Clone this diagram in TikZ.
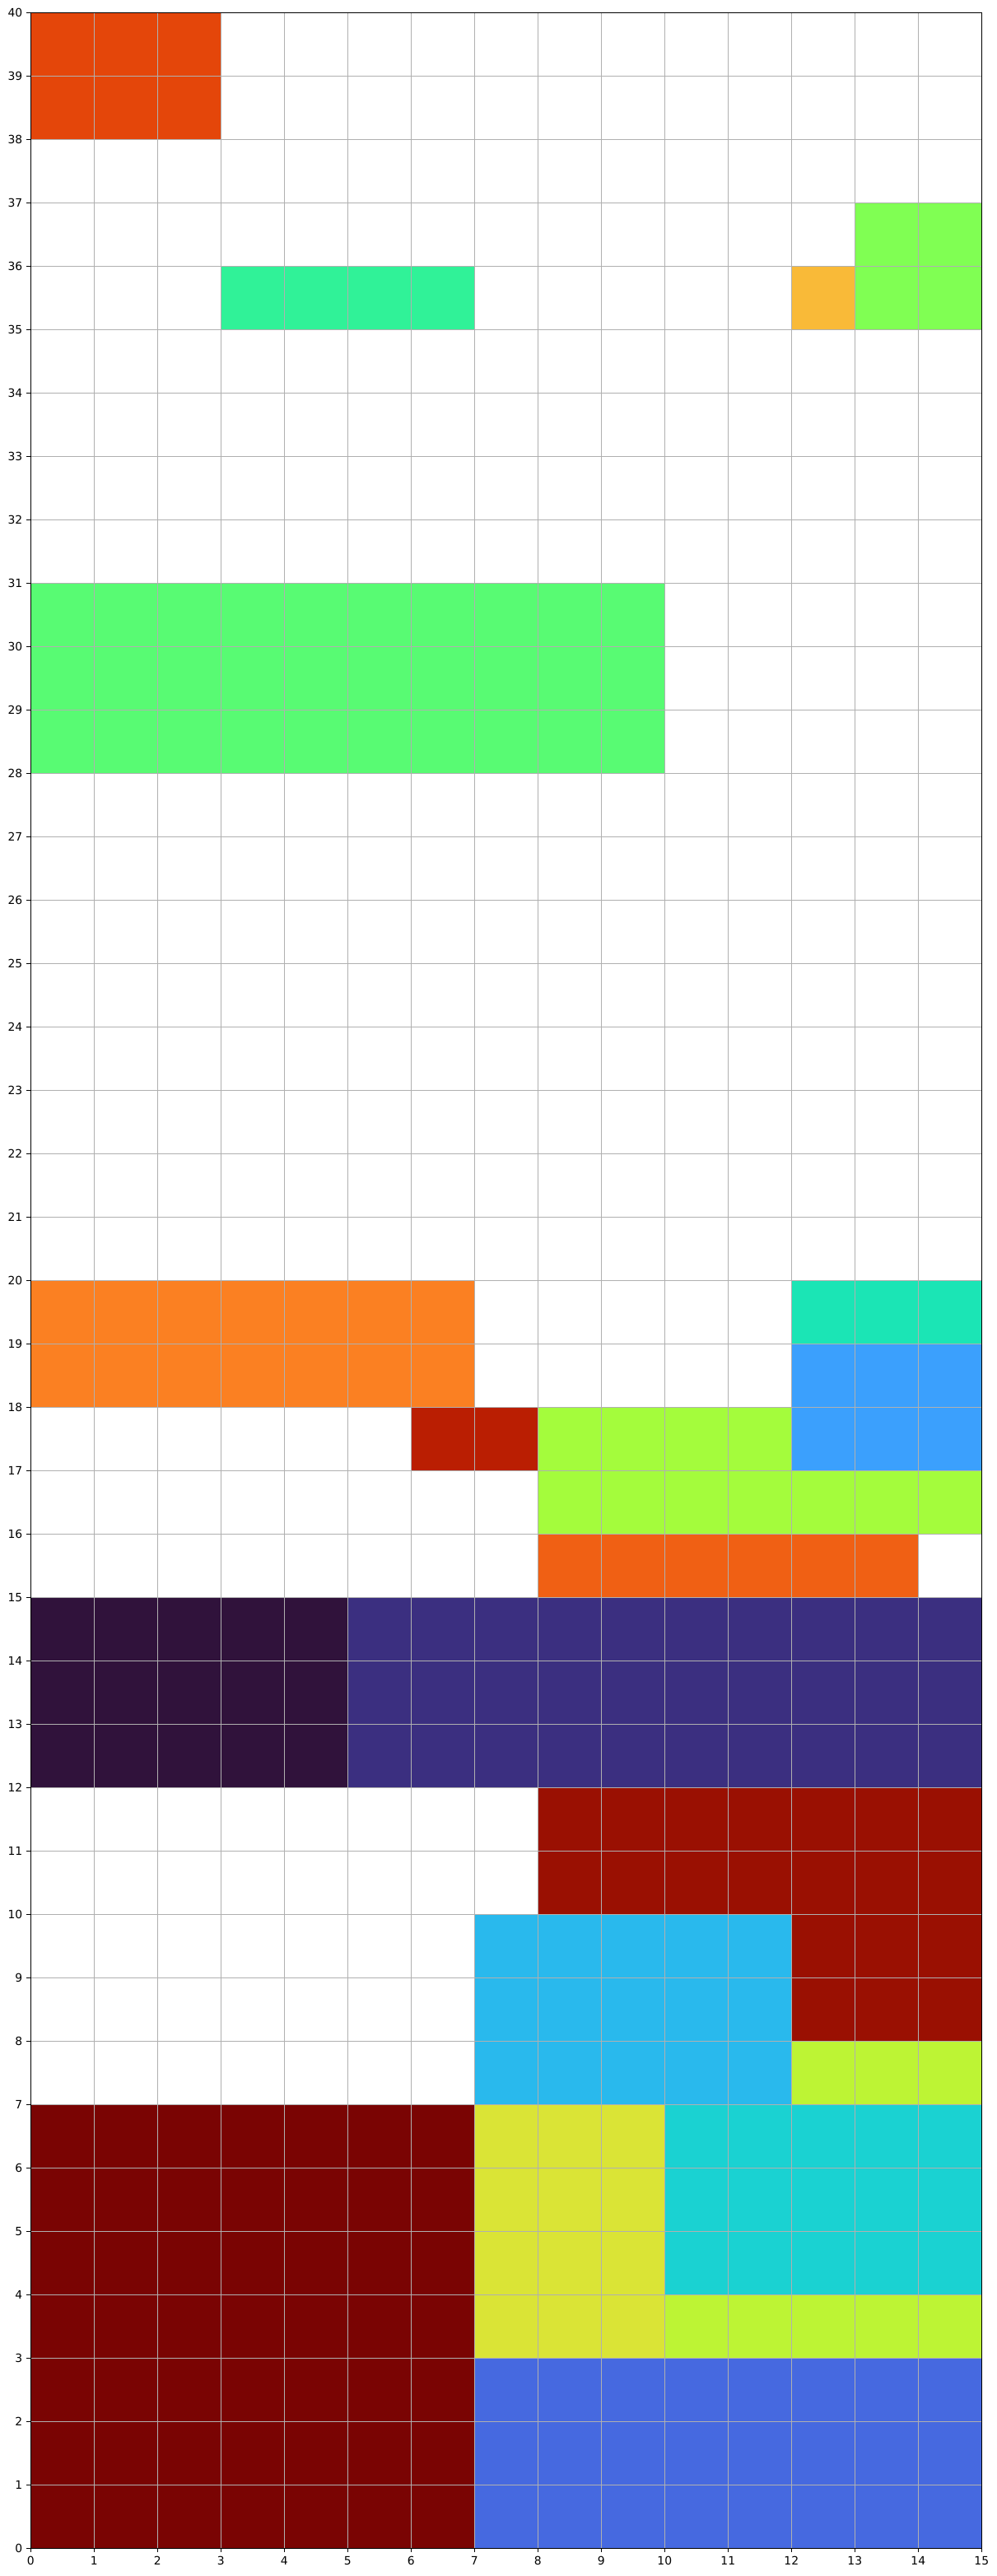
\documentclass[tikz,border=0pt]{standalone}
\usepackage{fontspec}
\setmainfont{DejaVu Sans}
\usetikzlibrary{positioning}
\definecolor{gridgray}{HTML}{B0B0B0}
\definecolor{cA}{HTML}{E4460A}
\definecolor{cB}{HTML}{30F298}
\definecolor{cC}{HTML}{F9BA38}
\definecolor{cD}{HTML}{80FF53}
\definecolor{cE}{HTML}{58FB73}
\definecolor{cF}{HTML}{FB8022}
\definecolor{cG}{HTML}{1BE5B5}
\definecolor{cH}{HTML}{3BA0FD}
\definecolor{cI}{HTML}{BA1E02}
\definecolor{cJ}{HTML}{A4FC3C}
\definecolor{cK}{HTML}{F06014}
\definecolor{cL}{HTML}{30123B}
\definecolor{cM}{HTML}{3B2F80}
\definecolor{cN}{HTML}{9A1002}
\definecolor{cO}{HTML}{29B9ED}
\definecolor{cP}{HTML}{BDF434}
\definecolor{cQ}{HTML}{7A0403}
\definecolor{cR}{HTML}{DAE436}
\definecolor{cS}{HTML}{1AD2D2}
\definecolor{cT}{HTML}{4669E0}
\tikzset{
  cell/.style     = {fill=#1, draw=#1!75!black, line width=0.6pt},
  gridline/.style = {draw=gridgray, line width=0.8pt},
  spine/.style    = {black, line width=0.8pt},
  ticmark/.style  = {black, line width=0.8pt},
  ticklabel/.style= {font=\fontsize{10}{12}\selectfont, inner sep=0pt},
}

\begin{document}
\begin{tikzpicture}[x=55.44pt,y=55.44pt]
  \useasboundingbox (-0.4844,-0.4377) rectangle (15.2429,40.199);
  % placed blocks
  \foreach \xa/\ya/\xb/\yb/\col in {
      0/38/3/40/cA, 3/35/7/36/cB, 12/35/13/36/cC, 13/35/15/37/cD,
      0/28/10/31/cE, 0/18/7/20/cF, 12/19/15/20/cG, 12/17/15/19/cH,
      6/17/8/18/cI, 8/17/12/18/cJ, 8/16/15/17/cJ, 8/15/14/16/cK,
      0/12/5/15/cL, 5/12/15/15/cM, 8/10/15/12/cN, 12/8/15/10/cN,
      7/7/12/10/cO, 12/7/15/8/cP, 0/0/7/7/cQ, 7/3/10/7/cR,
      10/4/15/7/cS, 10/3/15/4/cP, 7/0/15/3/cT}
    \path[cell=\col] (\xa,\ya) rectangle (\xb,\yb);
  % grid
  \foreach \i in {0,...,15}
    \draw[gridline] (\i,0) -- (\i,40);
  \foreach \j in {0,...,40}
    \draw[gridline] (0,\j) -- (15,\j);
  \draw[spine] (0,0) rectangle (15,40);
  % ticks
  \foreach \i in {0,...,15} {
    \coordinate (xb\i) at (\i,0);
    \draw[ticmark] (xb\i) -- ++(0,-3.5pt);
    \node[ticklabel, below=7pt of xb\i] (xl\i) {\i};
  }
  \foreach \j in {0,...,40} {
    \coordinate (yb\j) at (0,\j);
    \draw[ticmark] (yb\j) -- ++(-3.5pt,0);
    \node[ticklabel, left=7pt of yb\j] (yl\j) {\j};
  }
\end{tikzpicture}
\end{document}
